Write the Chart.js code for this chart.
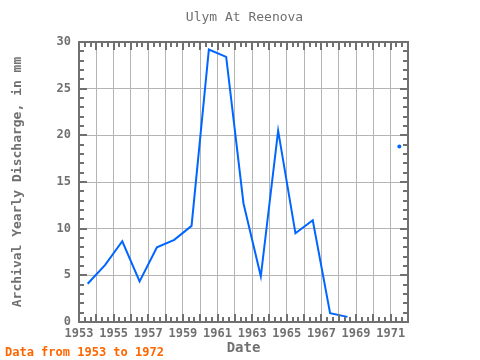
<html>
  <head>
    <title>Ulym At Reenova</title>
    <style>
      body { margin: 0; background: #fff; }
      #wrap { position: relative; width: 480px; height: 360px; }
      #footer {
        position: absolute;
        left: 5px;
        top: 345px;
        font: bold 12px 'DejaVu Sans Mono', monospace;
        color: #ff6600;
      }
    </style>
  </head>
  <body>
    <div id="wrap">
      <canvas id="chart" width="480" height="360"></canvas>
      <div id="footer">Data from 1953 to 1972</div>
    </div>

    <script src="https://cdn.jsdelivr.net/npm/chart.js@4"></script>
    <script type="text/javascript">
      // yearly values, plotted at mid-year
      const years = [1953, 1954, 1955, 1956, 1957, 1958, 1959, 1960, 1961, 1962,
        1963, 1964, 1965, 1966, 1967, 1968, 1969, 1970, 1971];
      const discharge = [4.1, 6.1, 8.65, 4.35, 8.0, 8.8, 10.3, 29.2, 28.4, 12.7,
        4.9, 20.5, 9.5, 10.9, 0.95, 0.55, null, null, 18.8];
      const xTickYears = [1953, 1955, 1957, 1959, 1961, 1963, 1965, 1967, 1969, 1971];
      const yTicks = [0, 5, 10, 15, 20, 25, 30];

      const axisGray = '#707070';
      const textGray = '#707070';
      const monoFont = "'DejaVu Sans Mono', monospace";

      const points = years.map((y, i) => ({ x: y + 0.5, y: discharge[i] }));

      // frame round the plot area with inward major/minor ticks
      const framePlugin = {
        id: 'frame',
        afterDraw(chart) {
          const { ctx, chartArea: a } = chart;
          const xs = chart.scales.x;
          const ys = chart.scales.y;
          ctx.save();
          ctx.strokeStyle = axisGray;
          ctx.lineWidth = 2;
          ctx.strokeRect(a.left, a.top, a.right - a.left, a.bottom - a.top);
          ctx.beginPath();
          for (let v = xs.min; v <= xs.max + 1e-6; v += 1 / 3) {
            const px = Math.round(xs.getPixelForValue(v));
            const major = Math.abs(v - Math.round(v)) < 1e-6;
            const len = major ? 8 : 5;
            ctx.moveTo(px, a.bottom);
            ctx.lineTo(px, a.bottom - len);
            ctx.moveTo(px, a.top);
            ctx.lineTo(px, a.top + len);
          }
          for (let v = ys.min; v <= ys.max; v += 1) {
            const py = Math.round(ys.getPixelForValue(v));
            const len = v % 5 === 0 ? 8 : 5;
            ctx.moveTo(a.left, py);
            ctx.lineTo(a.left + len, py);
            ctx.moveTo(a.right, py);
            ctx.lineTo(a.right - len, py);
          }
          ctx.stroke();
          ctx.restore();
        },
      };

      new Chart(document.getElementById('chart'), {
        type: 'line',
        data: {
          datasets: [
            {
              label: 'Ulym At Reenova',
              data: points,
              borderColor: '#0066ff',
              backgroundColor: '#0066ff',
              borderWidth: 2,
              tension: 0,
              spanGaps: false,
              pointRadius: (c) => {
                const i = c.dataIndex;
                const prev = discharge[i - 1];
                const next = discharge[i + 1];
                return prev == null && next == null ? 2 : 0;
              },
              pointBorderWidth: 0,
            },
          ],
        },
        options: {
          responsive: false,
          animation: false,
          events: [],
          layout: { padding: { left: 9, right: 0, top: 0, bottom: 0 } },
          plugins: {
            legend: { display: false },
            tooltip: { enabled: false },
            title: {
              display: true,
              text: 'Ulym At Reenova',
              color: textGray,
              font: { family: monoFont, size: 13, weight: 'normal', lineHeight: '14px' },
              padding: { top: 11, bottom: 17 },
            },
          },
          scales: {
            x: {
              type: 'linear',
              min: 1953,
              max: 1972,
              afterFit: (s) => { s.height = 38; },
              afterBuildTicks: (s) => {
                s.ticks = years.concat([1972]).map((v) => ({ value: v }));
              },
              grid: { color: '#b4b4b4', lineWidth: 1, drawTicks: false },
              border: { display: false },
              ticks: {
                autoSkip: false,
                maxRotation: 0,
                padding: 5,
                color: textGray,
                font: { family: monoFont, size: 12, weight: 'bold' },
                callback: (v) => (xTickYears.includes(v) ? String(v) : ''),
              },
              title: {
                display: true,
                text: 'Date',
                color: textGray,
                font: { family: monoFont, size: 14, weight: 'bold', lineHeight: '14px' },
                padding: { top: 0, bottom: 5 },
              },
            },
            y: {
              min: 0,
              max: 30,
              afterFit: (s) => { s.width = 70; },
              afterBuildTicks: (s) => {
                s.ticks = yTicks.map((v) => ({ value: v }));
              },
              grid: { color: '#b4b4b4', lineWidth: 1, drawTicks: false },
              border: { display: false },
              ticks: {
                padding: 8,
                color: textGray,
                font: { family: monoFont, size: 12, weight: 'bold' },
              },
              title: {
                display: true,
                text: 'Archival Yearly Discharge, in mm',
                color: textGray,
                font: { family: monoFont, size: 13, weight: 'bold', lineHeight: '14px' },
                padding: { top: 2, bottom: 0 },
              },
            },
            // empty right-hand strip so the title centres over the plot
            yRight: {
              position: 'right',
              display: true,
              afterFit: (s) => { s.width = 72; },
              grid: { display: false, drawTicks: false },
              border: { display: false },
              ticks: { display: false },
            },
          },
        },
        plugins: [framePlugin],
      });
    </script>
  </body>
</html>
